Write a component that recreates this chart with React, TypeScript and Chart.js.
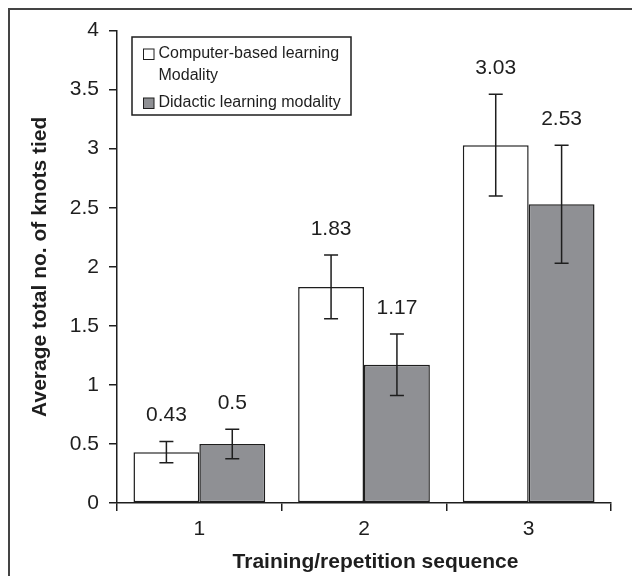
import React, { useEffect, useRef } from "react";
import { Chart, registerables } from "chart.js";

Chart.register(...registerables);

const categories = ["1", "2", "3"];
const computerLabel = "Computer-based learning Modality";
const didacticLabel = "Didactic learning modality";
const computerValues = [0.43, 1.83, 3.03];
const computerErrors = [0.09, 0.27, 0.43];
const didacticValues = [0.5, 1.17, 2.53];
const didacticErrors = [0.125, 0.26, 0.5];
const legendLines = [["Computer-based learning", "Modality"], ["Didactic learning modality"]];
const xTitle = "Training/repetition sequence";
const yTitle = "Average total no. of knots tied";
const yMin = 0;
const yMax = 4;
const yStep = 0.5;

const FONT = "'Liberation Sans', Arial, Helvetica, sans-serif";
const INK = "#1e1e1e";
const WHITE_FILL = "#ffffff";
const GRAY_FILL = "#8f9094";

const errors = [computerErrors, didacticErrors];

const framePlugin = {
  id: "frame",
  beforeDraw(chart: any) {
    const { ctx, width, height } = chart;
    ctx.save();
    ctx.fillStyle = "#ffffff";
    ctx.fillRect(0, 0, width, height);
    ctx.fillStyle = "#444444";
    ctx.fillRect(0, 0, width, 2);
    ctx.fillRect(0, 0, 2, height);
    ctx.restore();
  },
};

const errorPlugin = {
  id: "errorBars",
  afterDatasetsDraw(chart: any) {
    const { ctx } = chart;
    const yScale = chart.scales.y;
    ctx.save();
    chart.data.datasets.forEach((ds: any, i: number) => {
      const meta = chart.getDatasetMeta(i);
      meta.data.forEach((bar: any, j: number) => {
        const v = ds.data[j];
        const e = errors[i][j];
        const x = bar.x;
        const yTop = yScale.getPixelForValue(v + e);
        const yBot = yScale.getPixelForValue(v - e);
        ctx.strokeStyle = INK;
        ctx.lineWidth = 1.5;
        ctx.beginPath();
        ctx.moveTo(x, yTop);
        ctx.lineTo(x, yBot);
        ctx.moveTo(x - 7, yTop);
        ctx.lineTo(x + 7, yTop);
        ctx.moveTo(x - 7, yBot);
        ctx.lineTo(x + 7, yBot);
        ctx.stroke();
        ctx.fillStyle = INK;
        ctx.font = `21px ${FONT}`;
        ctx.textAlign = "center";
        ctx.textBaseline = "middle";
        ctx.fillText(String(v), x, yTop - 26);
      });
    });
    ctx.restore();
  },
};

const legendPlugin = {
  id: "boxLegend",
  afterDraw(chart: any) {
    const { ctx } = chart;
    ctx.save();
    ctx.strokeStyle = INK;
    ctx.lineWidth = 1.5;
    ctx.strokeRect(124, 29, 219, 78);
    ctx.font = `16px ${FONT}`;
    ctx.textAlign = "left";
    ctx.textBaseline = "middle";
    ctx.fillStyle = INK;
    const fills = [WHITE_FILL, GRAY_FILL];
    const starts = [46, 95];
    legendLines.forEach((lines, i) => {
      const cy = starts[i];
      ctx.fillStyle = fills[i];
      ctx.fillRect(135.5, cy - 5, 10.5, 10.5);
      ctx.lineWidth = 1;
      ctx.strokeStyle = INK;
      ctx.strokeRect(135.5, cy - 5, 10.5, 10.5);
      ctx.fillStyle = INK;
      lines.forEach((t, k) => {
        ctx.fillText(t, 150.5, cy + k * 21.5);
      });
    });
    ctx.font = `bold 21px ${FONT}`;
    ctx.textAlign = "center";
    ctx.textBaseline = "middle";
    ctx.fillText(xTitle, 367.5, 554);
    ctx.restore();
  },
};

export default function App() {
  const ref = useRef<HTMLCanvasElement | null>(null);
  useEffect(() => {
    if (!ref.current) return;
    const chart = new Chart(ref.current, {
      type: "bar",
      data: {
        labels: categories,
        datasets: [
          {
            label: computerLabel,
            data: computerValues,
            backgroundColor: WHITE_FILL,
            borderColor: INK,
            borderWidth: 1.5,
            borderSkipped: false,
            categoryPercentage: 0.8,
            barPercentage: 1.0,
          },
          {
            label: didacticLabel,
            data: didacticValues,
            backgroundColor: GRAY_FILL,
            borderColor: INK,
            borderWidth: 1.5,
            borderSkipped: false,
            categoryPercentage: 0.8,
            barPercentage: 1.0,
          },
        ],
      },
      options: {
        responsive: false,
        animation: false,
        layout: { padding: { top: 17, right: 29, left: 0, bottom: 0 } },
        plugins: {
          legend: { display: false },
          tooltip: { enabled: false },
          title: { display: false },
        },
        scales: {
          x: {
            offset: true,
            grid: {
              offset: true,
              drawOnChartArea: false,
              drawTicks: true,
              tickLength: 8,
              color: INK,
              lineWidth: 1.5,
            },
            border: { display: true, color: INK, width: 1.5 },
            ticks: {
              color: INK,
              font: { family: FONT, size: 21 },
              padding: 6,
              maxRotation: 0,
            },
            afterFit: (s: any) => {
              s.height = 73;
            },
          },
          y: {
            min: yMin,
            max: yMax,
            grid: {
              drawOnChartArea: false,
              drawTicks: true,
              tickLength: 8,
              color: INK,
              lineWidth: 1.5,
            },
            border: { display: true, color: INK, width: 1.5 },
            ticks: {
              stepSize: yStep,
              color: INK,
              font: { family: FONT, size: 21 },
              padding: 10,
              callback: (v: any) => String(v),
            },
            title: {
              display: true,
              text: yTitle,
              color: INK,
              font: { family: FONT, size: 21, weight: "bold" },
              padding: { top: 19.4, bottom: 0 },
            },
            afterFit: (s: any) => {
              s.width = 109;
            },
          },
        },
      },
      plugins: [framePlugin, errorPlugin, legendPlugin],
    } as any);
    return () => chart.destroy();
  }, []);
  return <canvas ref={ref} width={632} height={568} style={{ display: "block" }} />;
}
